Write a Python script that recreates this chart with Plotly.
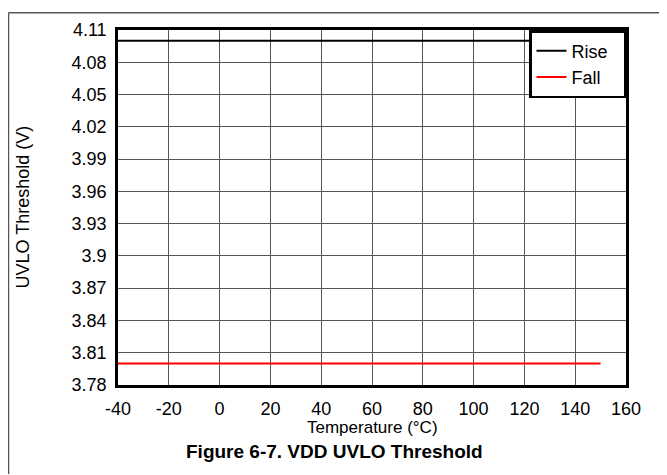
import plotly.graph_objects as go

temperature = [-40, -20, 0, 20, 40, 60, 80, 100, 120, 140, 150]
rise = [4.10, 4.10, 4.10, 4.10, 4.10, 4.10, 4.10, 4.10, 4.10, 4.10, 4.10]
fall = [3.80, 3.80, 3.80, 3.80, 3.80, 3.80, 3.80, 3.80, 3.80, 3.80, 3.80]
y_ticks = [3.78, 3.81, 3.84, 3.87, 3.90, 3.93, 3.96, 3.99, 4.02, 4.05, 4.08, 4.11]
y_labels = ["3.78", "3.81", "3.84", "3.87", "3.9", "3.93", "3.96", "3.99", "4.02", "4.05", "4.08", "4.11"]
x_ticks = [-40, -20, 0, 20, 40, 60, 80, 100, 120, 140, 160]
x_labels = ["-40", "-20", "0", "20", "40", "60", "80", "100", "120", "140", "160"]

FONT = "Liberation Sans, Arial, sans-serif"
FS = 18

fig = go.Figure()
fig.add_trace(go.Scatter(x=temperature, y=rise, mode="lines", name="Rise\u00a0\u00a0",
                         line=dict(color="black", width=2)))
fig.add_trace(go.Scatter(x=temperature, y=fall, mode="lines", name="Fall\u00a0\u00a0",
                         line=dict(color="#ff0000", width=2)))

# page has an 8px body margin; figure is sized to fill the rest of the window
W, H = 659, 467
L, R, T, B = 110, 41, 18, 90
pw, ph = W - L - R, H - T - B

fig.update_layout(
    width=W, height=H,
    margin=dict(l=L, r=R, t=T, b=B),
    paper_bgcolor="white", plot_bgcolor="white",
    font=dict(family=FONT, size=FS, color="black"),
    showlegend=True,
    legend=dict(x=1, y=1, xanchor="right", yanchor="top",
                bgcolor="white", bordercolor="black", borderwidth=2.5,
                font=dict(family=FONT, size=FS, color="black"),
                tracegroupgap=0, itemwidth=30),
    xaxis=dict(range=[-40, 160], tickvals=x_ticks, ticktext=x_labels, showgrid=True,
               gridcolor="#555555", gridwidth=1, zeroline=False,
               showline=True, linecolor="black", linewidth=2.5, mirror=True,
               ticks="outside", ticklen=6, tickcolor="rgba(0,0,0,0)",
               tickfont=dict(size=FS)),
    yaxis=dict(range=[3.78, 4.11], tickvals=y_ticks, ticktext=y_labels, showgrid=True,
               gridcolor="#555555", gridwidth=1, zeroline=False,
               showline=True, linecolor="black", linewidth=2.5, mirror=True,
               ticks="outside", ticklen=5, tickcolor="rgba(0,0,0,0)",
               tickfont=dict(size=FS)),
)

# frame lines of the figure page (top and left)
x_left = (0.5 - L) / pw
y_top = (H - B - 0.5) / ph
fig.add_shape(type="line", xref="paper", yref="paper", x0=x_left, x1=(W - L) / pw,
              y0=y_top, y1=y_top, line=dict(color="#555555", width=1.5))
fig.add_shape(type="line", xref="paper", yref="paper", x0=x_left, x1=x_left,
              y0=y_top, y1=-B / ph, line=dict(color="#555555", width=1.5))

# axis titles
fig.add_annotation(text="Temperature (°C)", xref="paper", yref="paper",
                   x=0.5, y=-(420 - (H - B)) / ph, xanchor="center", yanchor="middle",
                   showarrow=False, font=dict(family=FONT, size=17, color="black"))
fig.add_annotation(text="UVLO Threshold (V)", xref="paper", yref="paper", textangle=-90,
                   x=(14 - L) / pw, y=0.5, xanchor="center", yanchor="middle",
                   showarrow=False, font=dict(family=FONT, size=FS, color="black"))

fig.add_annotation(text="<b>Figure 6-7. VDD UVLO Threshold</b>", xref="paper", yref="paper",
                   x=(326 - L) / pw, y=-(444 - (H - B)) / ph, xanchor="center", yanchor="middle",
                   showarrow=False, font=dict(family=FONT, size=19, color="black"))

fig.write_html("out.html")
